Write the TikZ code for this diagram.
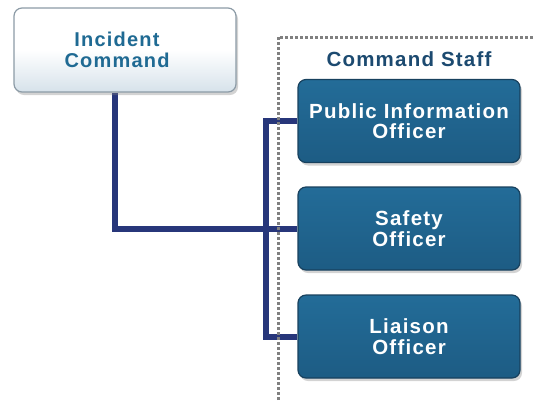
\documentclass[tikz,border=0pt]{standalone}
\usepackage{fontspec}
\usepackage{xcolor}
\usetikzlibrary{positioning,shadows}
\newfontfamily\orgfont{Liberation Sans}[LetterSpace=6]

\definecolor{icText}{HTML}{1F6A93}
\definecolor{staffText}{HTML}{1C4A70}
\definecolor{boxFill}{HTML}{236C98}
\definecolor{boxFillDark}{HTML}{1D5C84}
\definecolor{boxEdge}{HTML}{18415E}
\definecolor{linkNavy}{HTML}{27367A}
\definecolor{icEdge}{HTML}{8C9BA6}
\definecolor{icBottom}{HTML}{D6E2EA}

\pgfdeclarelayer{links}
\pgfdeclarelayer{frame}
\pgfsetlayers{links,frame,main}

\tikzset{
  cmdbox/.style={draw=icEdge, line width=1.2pt, rounded corners=8pt,
    top color=white, bottom color=icBottom, middle color=white,
    minimum width=222pt, minimum height=84pt,
    drop shadow={shadow xshift=2pt, shadow yshift=-3pt, opacity=0.35}},
  cmdtext/.style={align=center, text=icText,
    font=\orgfont\bfseries\fontsize{20}{21}\selectfont},
  staffbox/.style={draw=boxEdge, line width=1.2pt, rounded corners=8pt,
    top color=boxFill, bottom color=boxFillDark,
    minimum width=222pt, minimum height=83pt, align=center,
    font=\orgfont\bfseries\fontsize{20.5}{20.5}\selectfont, text=white,
    drop shadow={shadow xshift=2pt, shadow yshift=-3pt, opacity=0.35}},
  link/.style={draw=linkNavy, line width=6pt},
  staffline/.style={draw=black!50, line width=3pt, dash pattern=on 3pt off 2pt}
}

\begin{document}
\begin{tikzpicture}[x=1pt, y=-1pt]
\useasboundingbox (0,0) rectangle (534,400);

% boxes
\node[cmdbox] (ic) at (125,50) {};
\node[cmdtext] (ictext) at ([xshift=-8pt]ic.center) {Incident\\Command};
\node[staffbox] (pio) at (409,121) {Public Information\\Officer};
\node[staffbox] (safety) at (409,228.5) {Safety\\Officer};
\node[staffbox] (liaison) at (409,336.5) {Liaison\\Officer};
\node[font=\orgfont\bfseries\fontsize{20.5}{21}\selectfont, text=staffText] (staff) at (409,59.5) {Command Staff};

% connectors
\begin{pgfonlayer}{links}
\draw[link] (ic.south -| 115,0) |- (safety.west);
\coordinate (bus) at (266,0);
\draw[link] (pio.west) -- (pio.west -| bus) |- (liaison.west);
\end{pgfonlayer}

% staff frame
\begin{pgfonlayer}{frame}
\draw[staffline] (278,400) -- (278,37) -- (534,37);
\end{pgfonlayer}
\end{tikzpicture}
\end{document}
